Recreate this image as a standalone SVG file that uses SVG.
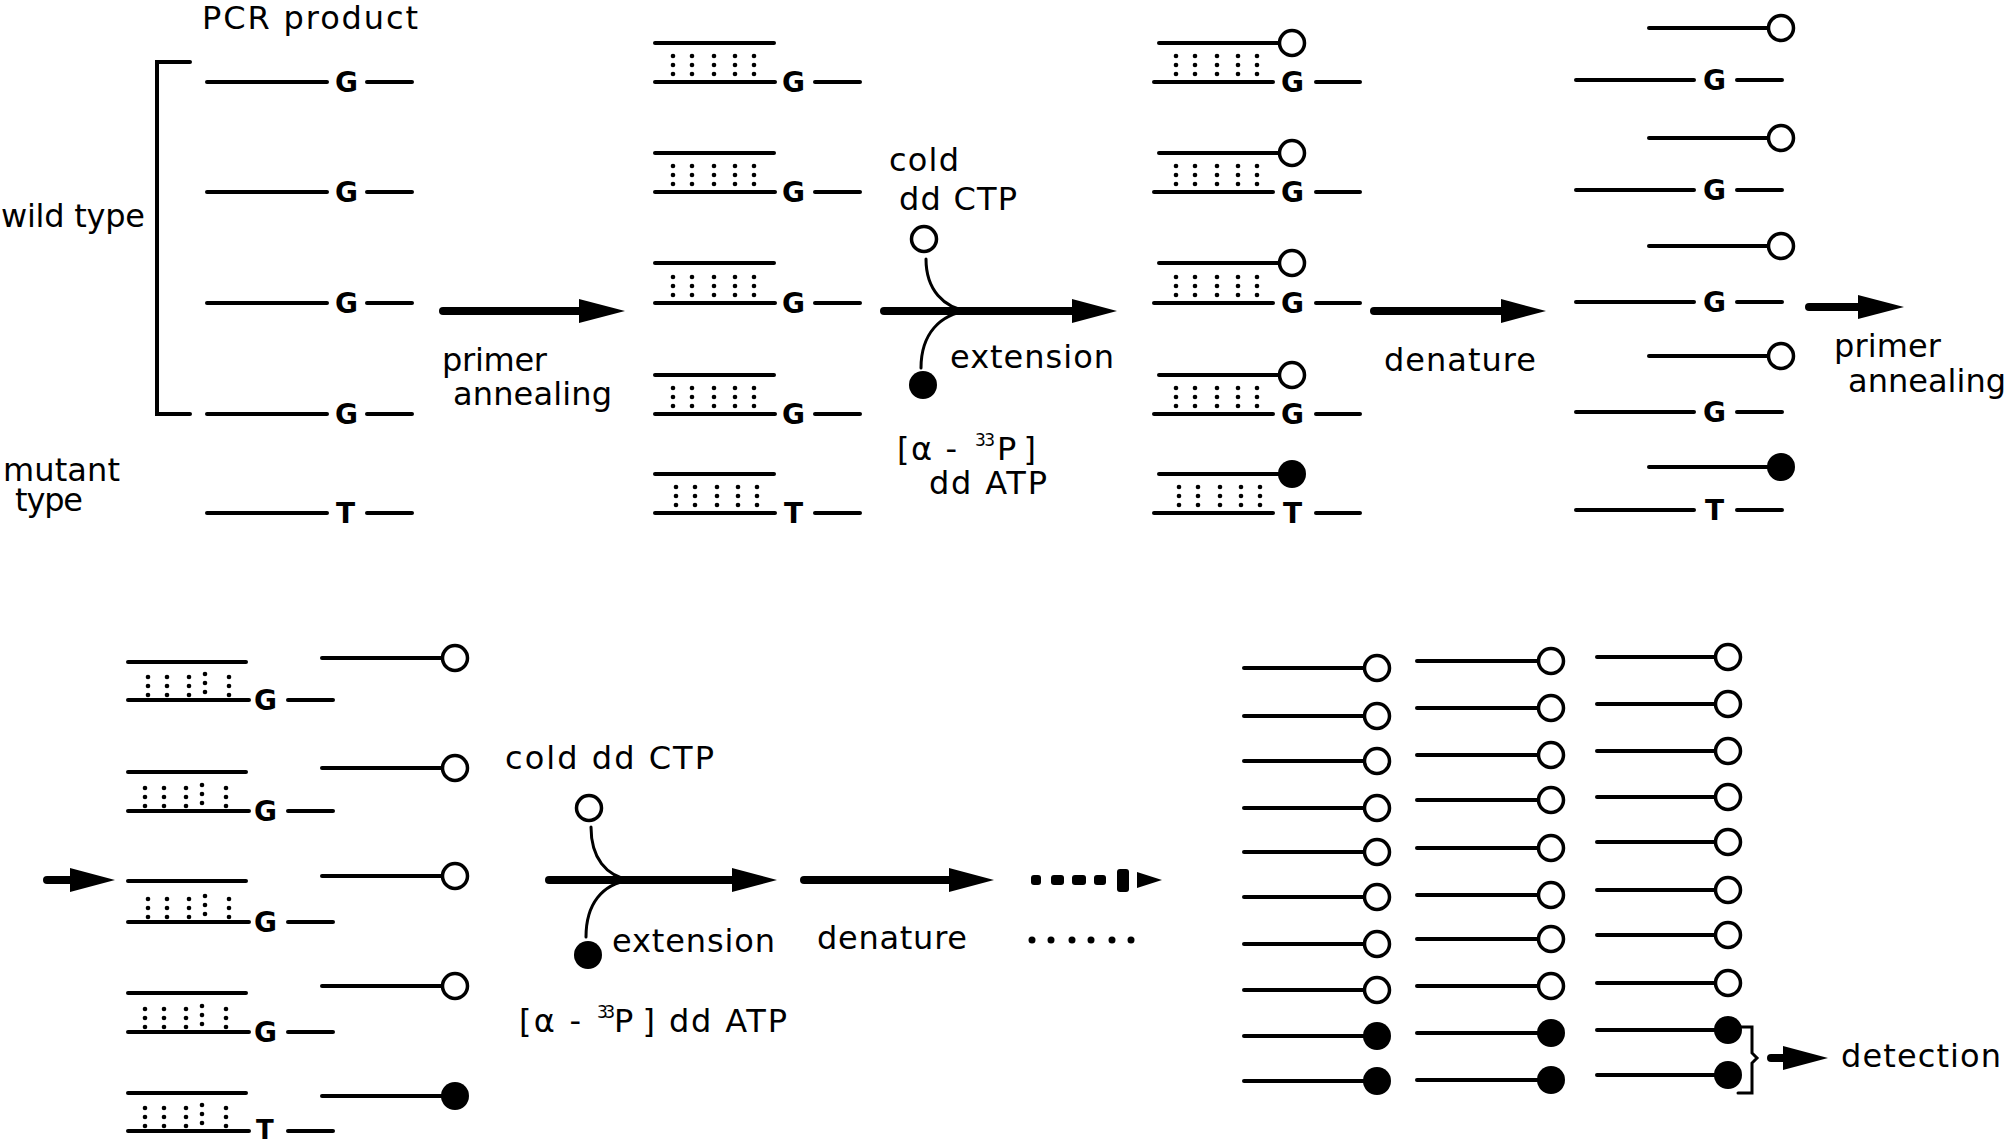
<svg xmlns="http://www.w3.org/2000/svg" xmlns:xlink="http://www.w3.org/1999/xlink" width="2008" height="1142" viewBox="0 0 2008 1142">
<style>
  .bg{fill:#fff}
  .s{stroke:#000;stroke-width:4;stroke-linecap:round;fill:none}
  .thin{stroke:#000;stroke-width:3;fill:none;stroke-linecap:round}
  .shaft{stroke:#000;stroke-width:8;stroke-linecap:round;fill:none}
  .head{fill:#000}
  .oc{fill:#fff;stroke:#000;stroke-width:3.5}
  .fc{fill:#000}
  .dot{fill:#000}
  .lbl{font-family:"DejaVu Sans","Liberation Sans",sans-serif;font-size:32px;fill:#000}
  .sup{font-family:"DejaVu Sans","Liberation Sans",sans-serif;font-size:17px;fill:#000}
  .b{font-family:"DejaVu Sans","Liberation Sans",sans-serif;font-size:28px;font-weight:bold;fill:#000}
</style>
<defs>
  <g id="dotsA">
    <circle class="dot" cx="18" cy="-26" r="2.3"/><circle class="dot" cx="18" cy="-17" r="2.3"/><circle class="dot" cx="18" cy="-8" r="2.3"/>
    <circle class="dot" cx="37" cy="-26" r="2.3"/><circle class="dot" cx="37" cy="-17" r="2.3"/><circle class="dot" cx="37" cy="-8" r="2.3"/>
    <circle class="dot" cx="59" cy="-26" r="2.3"/><circle class="dot" cx="59" cy="-17" r="2.3"/><circle class="dot" cx="59" cy="-8" r="2.3"/>
    <circle class="dot" cx="80" cy="-26" r="2.3"/><circle class="dot" cx="80" cy="-17" r="2.3"/><circle class="dot" cx="80" cy="-8" r="2.3"/>
    <circle class="dot" cx="99" cy="-26" r="2.3"/><circle class="dot" cx="99" cy="-17" r="2.3"/><circle class="dot" cx="99" cy="-8" r="2.3"/>
  </g>
  <g id="dotsB">
    <circle class="dot" cx="20" cy="-23" r="2.3"/><circle class="dot" cx="20" cy="-14" r="2.3"/><circle class="dot" cx="20" cy="-5" r="2.3"/>
    <circle class="dot" cx="39" cy="-23" r="2.3"/><circle class="dot" cx="39" cy="-14" r="2.3"/><circle class="dot" cx="39" cy="-5" r="2.3"/>
    <circle class="dot" cx="61" cy="-23" r="2.3"/><circle class="dot" cx="61" cy="-14" r="2.3"/><circle class="dot" cx="61" cy="-5" r="2.3"/>
    <circle class="dot" cx="77" cy="-26" r="2.3"/><circle class="dot" cx="77" cy="-17" r="2.3"/><circle class="dot" cx="77" cy="-8" r="2.3"/>
    <circle class="dot" cx="101" cy="-23" r="2.3"/><circle class="dot" cx="101" cy="-14" r="2.3"/><circle class="dot" cx="101" cy="-5" r="2.3"/>
  </g>
</defs>
<rect class="bg" x="0" y="0" width="2008" height="1142"/>

<!-- Labels -->
<g id="labels">
  <text class="lbl" x="202" y="29" textLength="216" lengthAdjust="spacing">PCR product</text>
  <text class="lbl" x="1" y="227" textLength="144" lengthAdjust="spacing">wild type</text>
  <text class="lbl" x="3" y="481" textLength="117" lengthAdjust="spacing">mutant</text>
  <text class="lbl" x="15" y="511" textLength="68" lengthAdjust="spacing">type</text>
  <text class="lbl" x="442" y="371" textLength="105" lengthAdjust="spacing">primer</text>
  <text class="lbl" x="453" y="405" textLength="159" lengthAdjust="spacing">annealing</text>
  <text class="lbl" x="889" y="171" textLength="70" lengthAdjust="spacing">cold</text>
  <text class="lbl" x="899" y="210" textLength="118" lengthAdjust="spacing">dd CTP</text>
  <text class="lbl" x="950" y="368" textLength="164" lengthAdjust="spacing">extension</text>
  <text class="lbl" x="897" y="460" textLength="60" lengthAdjust="spacing">[α -</text>
  <text class="sup" x="975" y="446" textLength="20" lengthAdjust="spacing">33</text>
  <text class="lbl" x="997" y="460" textLength="39" lengthAdjust="spacing">P]</text>
  <text class="lbl" x="929" y="494" textLength="118" lengthAdjust="spacing">dd ATP</text>
  <text class="lbl" x="1384" y="371" textLength="152" lengthAdjust="spacing">denature</text>
  <text class="lbl" x="1834" y="357" textLength="107" lengthAdjust="spacing">primer</text>
  <text class="lbl" x="1848" y="392" textLength="158" lengthAdjust="spacing">annealing</text>
  <text class="lbl" x="505" y="769" textLength="209" lengthAdjust="spacing">cold dd CTP</text>
  <text class="lbl" x="612" y="952" textLength="163" lengthAdjust="spacing">extension</text>
  <text class="lbl" x="519" y="1032" textLength="62" lengthAdjust="spacing">[α -</text>
  <text class="sup" x="597" y="1018" textLength="18" lengthAdjust="spacing">33</text>
  <text class="lbl" x="614" y="1032" textLength="41" lengthAdjust="spacing">P]</text>
  <text class="lbl" x="669" y="1032" textLength="118" lengthAdjust="spacing">dd ATP</text>
  <text class="lbl" x="817" y="949" textLength="150" lengthAdjust="spacing">denature</text>
  <text class="lbl" x="1841" y="1067" textLength="160" lengthAdjust="spacing">detection</text>
</g>

<!-- Column 1: PCR products -->
<g id="col1">
  <path class="s" d="M190,62 H157 V414 H190"/>
  <g id="c1r1"><line class="s" x1="207" y1="82" x2="327" y2="82"/><text class="b" x="335" y="92">G</text><line class="s" x1="367" y1="82" x2="412" y2="82"/></g>
  <g id="c1r2"><line class="s" x1="207" y1="192" x2="327" y2="192"/><text class="b" x="335" y="202">G</text><line class="s" x1="367" y1="192" x2="412" y2="192"/></g>
  <g id="c1r3"><line class="s" x1="207" y1="303" x2="327" y2="303"/><text class="b" x="335" y="313">G</text><line class="s" x1="367" y1="303" x2="412" y2="303"/></g>
  <g id="c1r4"><line class="s" x1="207" y1="414" x2="327" y2="414"/><text class="b" x="335" y="424">G</text><line class="s" x1="367" y1="414" x2="412" y2="414"/></g>
  <g id="c1r5"><line class="s" x1="207" y1="513" x2="327" y2="513"/><text class="b" x="336" y="523">T</text><line class="s" x1="367" y1="513" x2="412" y2="513"/></g>
</g>

<!-- Column 2: primer annealed -->
<g id="col2">
  <g id="c2r1"><line class="s" x1="655" y1="43" x2="774" y2="43"/><use xlink:href="#dotsA" x="655" y="82"/><line class="s" x1="655" y1="82" x2="775" y2="82"/><text class="b" x="782" y="92">G</text><line class="s" x1="815" y1="82" x2="860" y2="82"/></g>
  <g id="c2r2"><line class="s" x1="655" y1="153" x2="774" y2="153"/><use xlink:href="#dotsA" x="655" y="192"/><line class="s" x1="655" y1="192" x2="775" y2="192"/><text class="b" x="782" y="202">G</text><line class="s" x1="815" y1="192" x2="860" y2="192"/></g>
  <g id="c2r3"><line class="s" x1="655" y1="263" x2="774" y2="263"/><use xlink:href="#dotsA" x="655" y="303"/><line class="s" x1="655" y1="303" x2="775" y2="303"/><text class="b" x="782" y="313">G</text><line class="s" x1="815" y1="303" x2="860" y2="303"/></g>
  <g id="c2r4"><line class="s" x1="655" y1="375" x2="774" y2="375"/><use xlink:href="#dotsA" x="655" y="414"/><line class="s" x1="655" y1="414" x2="775" y2="414"/><text class="b" x="782" y="424">G</text><line class="s" x1="815" y1="414" x2="860" y2="414"/></g>
  <g id="c2r5"><line class="s" x1="655" y1="474" x2="774" y2="474"/><use xlink:href="#dotsA" x="658" y="513"/><line class="s" x1="655" y1="513" x2="775" y2="513"/><text class="b" x="784" y="523">T</text><line class="s" x1="815" y1="513" x2="860" y2="513"/></g>
</g>

<!-- Column 3: extended -->
<g id="col3">
  <g id="c3r1"><line class="s" x1="1159" y1="43" x2="1279" y2="43"/><circle class="oc" cx="1292" cy="43" r="12.5"/><use xlink:href="#dotsA" x="1158" y="82"/><line class="s" x1="1154" y1="82" x2="1273" y2="82"/><text class="b" x="1281" y="92">G</text><line class="s" x1="1316" y1="82" x2="1360" y2="82"/></g>
  <g id="c3r2"><line class="s" x1="1159" y1="153" x2="1279" y2="153"/><circle class="oc" cx="1292" cy="153" r="12.5"/><use xlink:href="#dotsA" x="1158" y="192"/><line class="s" x1="1154" y1="192" x2="1273" y2="192"/><text class="b" x="1281" y="202">G</text><line class="s" x1="1316" y1="192" x2="1360" y2="192"/></g>
  <g id="c3r3"><line class="s" x1="1159" y1="263" x2="1279" y2="263"/><circle class="oc" cx="1292" cy="263" r="12.5"/><use xlink:href="#dotsA" x="1158" y="303"/><line class="s" x1="1154" y1="303" x2="1273" y2="303"/><text class="b" x="1281" y="313">G</text><line class="s" x1="1316" y1="303" x2="1360" y2="303"/></g>
  <g id="c3r4"><line class="s" x1="1159" y1="375" x2="1279" y2="375"/><circle class="oc" cx="1292" cy="375" r="12.5"/><use xlink:href="#dotsA" x="1158" y="414"/><line class="s" x1="1154" y1="414" x2="1273" y2="414"/><text class="b" x="1281" y="424">G</text><line class="s" x1="1316" y1="414" x2="1360" y2="414"/></g>
  <g id="c3r5"><line class="s" x1="1159" y1="474" x2="1279" y2="474"/><circle class="fc" cx="1292" cy="474" r="14"/><use xlink:href="#dotsA" x="1161" y="513"/><line class="s" x1="1154" y1="513" x2="1273" y2="513"/><text class="b" x="1283" y="523">T</text><line class="s" x1="1316" y1="513" x2="1360" y2="513"/></g>
</g>

<!-- Column 4: denatured -->
<g id="col4">
  <g id="c4r1"><line class="s" x1="1649" y1="28" x2="1768" y2="28"/><circle class="oc" cx="1781" cy="28" r="12.5"/><line class="s" x1="1576" y1="80" x2="1694" y2="80"/><text class="b" x="1703" y="90">G</text><line class="s" x1="1737" y1="80" x2="1782" y2="80"/></g>
  <g id="c4r2"><line class="s" x1="1649" y1="138" x2="1768" y2="138"/><circle class="oc" cx="1781" cy="138" r="12.5"/><line class="s" x1="1576" y1="190" x2="1694" y2="190"/><text class="b" x="1703" y="200">G</text><line class="s" x1="1737" y1="190" x2="1782" y2="190"/></g>
  <g id="c4r3"><line class="s" x1="1649" y1="246" x2="1768" y2="246"/><circle class="oc" cx="1781" cy="246" r="12.5"/><line class="s" x1="1576" y1="302" x2="1694" y2="302"/><text class="b" x="1703" y="312">G</text><line class="s" x1="1737" y1="302" x2="1782" y2="302"/></g>
  <g id="c4r4"><line class="s" x1="1649" y1="356" x2="1768" y2="356"/><circle class="oc" cx="1781" cy="356" r="12.5"/><line class="s" x1="1576" y1="412" x2="1694" y2="412"/><text class="b" x="1703" y="422">G</text><line class="s" x1="1737" y1="412" x2="1782" y2="412"/></g>
  <g id="c4r5"><line class="s" x1="1649" y1="467" x2="1768" y2="467"/><circle class="fc" cx="1781" cy="467" r="14"/><line class="s" x1="1576" y1="510" x2="1694" y2="510"/><text class="b" x="1705" y="520">T</text><line class="s" x1="1737" y1="510" x2="1782" y2="510"/></g>
</g>

<!-- Column 5: second annealing -->
<g id="col5">
  <g id="c5r1"><line class="s" x1="128" y1="662" x2="246" y2="662"/><use xlink:href="#dotsB" x="128" y="700"/><line class="s" x1="128" y1="700" x2="249" y2="700"/><text class="b" x="254" y="710">G</text><line class="s" x1="288" y1="700" x2="333" y2="700"/><line class="s" x1="322" y1="658" x2="442" y2="658"/><circle class="oc" cx="455" cy="658" r="12.5"/></g>
  <g id="c5r2"><line class="s" x1="128" y1="772" x2="246" y2="772"/><use xlink:href="#dotsB" x="125" y="811"/><line class="s" x1="128" y1="811" x2="249" y2="811"/><text class="b" x="254" y="821">G</text><line class="s" x1="288" y1="811" x2="333" y2="811"/><line class="s" x1="322" y1="768" x2="442" y2="768"/><circle class="oc" cx="455" cy="768" r="12.5"/></g>
  <g id="c5r3"><line class="s" x1="128" y1="881" x2="246" y2="881"/><use xlink:href="#dotsB" x="128" y="922"/><line class="s" x1="128" y1="922" x2="249" y2="922"/><text class="b" x="254" y="932">G</text><line class="s" x1="288" y1="922" x2="333" y2="922"/><line class="s" x1="322" y1="876" x2="442" y2="876"/><circle class="oc" cx="455" cy="876" r="12.5"/></g>
  <g id="c5r4"><line class="s" x1="128" y1="993" x2="246" y2="993"/><use xlink:href="#dotsB" x="125" y="1032"/><line class="s" x1="128" y1="1032" x2="249" y2="1032"/><text class="b" x="254" y="1042">G</text><line class="s" x1="288" y1="1032" x2="333" y2="1032"/><line class="s" x1="322" y1="986" x2="442" y2="986"/><circle class="oc" cx="455" cy="986" r="12.5"/></g>
  <g id="c5r5"><line class="s" x1="128" y1="1093" x2="246" y2="1093"/><use xlink:href="#dotsB" x="125" y="1131"/><line class="s" x1="128" y1="1131" x2="249" y2="1131"/><text class="b" x="256" y="1139" style="font-size:26px">T</text><line class="s" x1="288" y1="1131" x2="333" y2="1131"/><line class="s" x1="322" y1="1096" x2="442" y2="1096"/><circle class="fc" cx="455" cy="1096" r="14"/></g>
</g>

<!-- Columns 6-8: amplified products -->
<g id="colA">
  <line class="s" x1="1244" y1="668" x2="1364" y2="668"/><circle class="oc" cx="1377" cy="668" r="12.5"/>
  <line class="s" x1="1244" y1="716" x2="1364" y2="716"/><circle class="oc" cx="1377" cy="716" r="12.5"/>
  <line class="s" x1="1244" y1="761" x2="1364" y2="761"/><circle class="oc" cx="1377" cy="761" r="12.5"/>
  <line class="s" x1="1244" y1="808" x2="1364" y2="808"/><circle class="oc" cx="1377" cy="808" r="12.5"/>
  <line class="s" x1="1244" y1="852" x2="1364" y2="852"/><circle class="oc" cx="1377" cy="852" r="12.5"/>
  <line class="s" x1="1244" y1="897" x2="1364" y2="897"/><circle class="oc" cx="1377" cy="897" r="12.5"/>
  <line class="s" x1="1244" y1="944" x2="1364" y2="944"/><circle class="oc" cx="1377" cy="944" r="12.5"/>
  <line class="s" x1="1244" y1="990" x2="1364" y2="990"/><circle class="oc" cx="1377" cy="990" r="12.5"/>
  <line class="s" x1="1244" y1="1036" x2="1364" y2="1036"/><circle class="fc" cx="1377" cy="1036" r="14"/>
  <line class="s" x1="1244" y1="1081" x2="1364" y2="1081"/><circle class="fc" cx="1377" cy="1081" r="14"/>
</g>
<g id="colB">
  <line class="s" x1="1417" y1="661" x2="1538" y2="661"/><circle class="oc" cx="1551" cy="661" r="12.5"/>
  <line class="s" x1="1417" y1="708" x2="1538" y2="708"/><circle class="oc" cx="1551" cy="708" r="12.5"/>
  <line class="s" x1="1417" y1="755" x2="1538" y2="755"/><circle class="oc" cx="1551" cy="755" r="12.5"/>
  <line class="s" x1="1417" y1="800" x2="1538" y2="800"/><circle class="oc" cx="1551" cy="800" r="12.5"/>
  <line class="s" x1="1417" y1="848" x2="1538" y2="848"/><circle class="oc" cx="1551" cy="848" r="12.5"/>
  <line class="s" x1="1417" y1="895" x2="1538" y2="895"/><circle class="oc" cx="1551" cy="895" r="12.5"/>
  <line class="s" x1="1417" y1="939" x2="1538" y2="939"/><circle class="oc" cx="1551" cy="939" r="12.5"/>
  <line class="s" x1="1417" y1="986" x2="1538" y2="986"/><circle class="oc" cx="1551" cy="986" r="12.5"/>
  <line class="s" x1="1417" y1="1033" x2="1538" y2="1033"/><circle class="fc" cx="1551" cy="1033" r="14"/>
  <line class="s" x1="1417" y1="1080" x2="1538" y2="1080"/><circle class="fc" cx="1551" cy="1080" r="14"/>
</g>
<g id="colC">
  <line class="s" x1="1597" y1="657" x2="1715" y2="657"/><circle class="oc" cx="1728" cy="657" r="12.5"/>
  <line class="s" x1="1597" y1="704" x2="1715" y2="704"/><circle class="oc" cx="1728" cy="704" r="12.5"/>
  <line class="s" x1="1597" y1="751" x2="1715" y2="751"/><circle class="oc" cx="1728" cy="751" r="12.5"/>
  <line class="s" x1="1597" y1="797" x2="1715" y2="797"/><circle class="oc" cx="1728" cy="797" r="12.5"/>
  <line class="s" x1="1597" y1="842" x2="1715" y2="842"/><circle class="oc" cx="1728" cy="842" r="12.5"/>
  <line class="s" x1="1597" y1="890" x2="1715" y2="890"/><circle class="oc" cx="1728" cy="890" r="12.5"/>
  <line class="s" x1="1597" y1="935" x2="1715" y2="935"/><circle class="oc" cx="1728" cy="935" r="12.5"/>
  <line class="s" x1="1597" y1="983" x2="1715" y2="983"/><circle class="oc" cx="1728" cy="983" r="12.5"/>
  <line class="s" x1="1597" y1="1030" x2="1715" y2="1030"/><circle class="fc" cx="1728" cy="1030" r="14"/>
  <line class="s" x1="1597" y1="1075" x2="1715" y2="1075"/><circle class="fc" cx="1728" cy="1075" r="14"/>
  <path class="thin" d="M1738,1027 H1752 V1053 L1757,1058 L1752,1063 V1093 H1738"/>
</g>

<!-- Nucleotide symbols -->
<g id="nucleotides">
  <circle class="oc" cx="924" cy="239" r="12.5"/>
  <circle class="fc" cx="923" cy="385" r="14"/>
  <circle class="oc" cx="589" cy="808" r="12.5"/>
  <circle class="fc" cx="588" cy="955" r="14"/>
</g>

<!-- Connectors -->
<g id="connectors">
  <line class="shaft" x1="443" y1="311" x2="585" y2="311"/><polygon class="head" points="579,299 625,311 579,323"/>
  <line class="shaft" x1="884" y1="311" x2="1078" y2="311"/><polygon class="head" points="1072,299 1117,311 1072,323"/>
  <path class="thin" d="M926,259 C926,290 944,308 968,311"/>
  <path class="thin" d="M921,368 C921,334 940,314 968,311"/>
  <line class="shaft" x1="1374" y1="311" x2="1506" y2="311"/><polygon class="head" points="1501,299 1546,311 1501,323"/>
  <line class="shaft" x1="1809" y1="307" x2="1862" y2="307"/><polygon class="head" points="1858,295 1904,307 1858,319"/>
  <line class="shaft" x1="47" y1="880" x2="75" y2="880"/><polygon class="head" points="70,868 115,880 70,892"/>
  <line class="shaft" x1="549" y1="880" x2="737" y2="880"/><polygon class="head" points="732,868 777,880 732,892"/>
  <path class="thin" d="M591,827 C591,858 606,876 630,880"/>
  <path class="thin" d="M586,937 C586,904 602,884 630,880"/>
  <line class="shaft" x1="804" y1="880" x2="954" y2="880"/><polygon class="head" points="949,868 994,880 949,892"/>
  <g id="dashed-arrow">
    <rect x="1031" y="875" width="10" height="10" rx="3"/>
    <rect x="1051" y="875" width="13" height="10" rx="3"/>
    <rect x="1072" y="875" width="14" height="10" rx="3"/>
    <rect x="1094" y="875" width="12" height="10" rx="3"/>
    <rect x="1117" y="869" width="12" height="23" rx="3"/>
    <polygon class="head" points="1137,872 1162,880 1137,888"/>
  </g>
  <g id="ellipsis">
    <circle class="dot" cx="1032" cy="940" r="3.5"/><circle class="dot" cx="1051" cy="940" r="3.5"/><circle class="dot" cx="1072" cy="940" r="3.5"/>
    <circle class="dot" cx="1091" cy="940" r="3.5"/><circle class="dot" cx="1112" cy="940" r="3.5"/><circle class="dot" cx="1131" cy="940" r="3.5"/>
  </g>
  <line class="shaft" x1="1771" y1="1058" x2="1788" y2="1058"/><polygon class="head" points="1783,1046 1828,1058 1783,1070"/>
</g>
</svg>
